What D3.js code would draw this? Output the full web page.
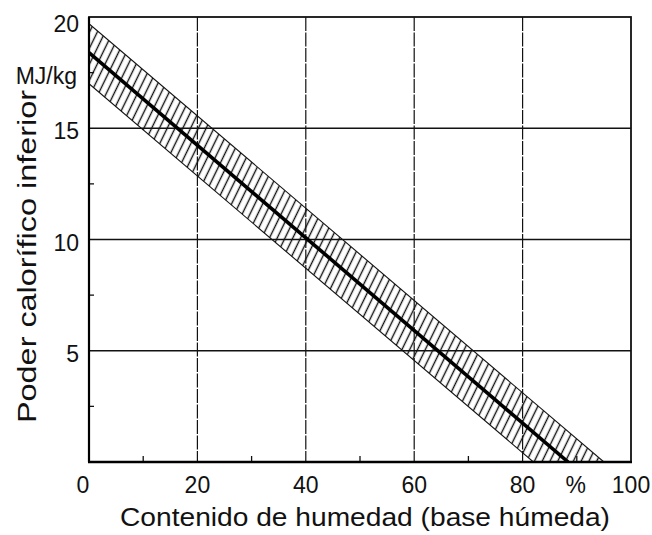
<!DOCTYPE html>
<html>
<head>
<meta charset="utf-8">
<script src="https://cdn.jsdelivr.net/npm/d3@7"></script>
<style>
  body { margin: 0; background: #fff; }
  text { font-family: "Liberation Sans", Arial, sans-serif; fill: #111; }
</style>
</head>
<body>
<div id="chart"></div>
<script>
// data
const xTicks = [0, 20, 40, 60, 80, 100];
const yTicks = [5, 10, 15, 20];
const xMinor = [10, 30, 50, 70, 90];
const yMinor = [2.5, 7.5, 12.5, 17.5];
const centerLine = [[0, 18.4], [88.4, 0]];
const bandUpper = [[0, 19.7], [95, 0]];
const bandLower = [[0, 17.0], [82, 0]];

const width = 652, height = 535;
const margin = { top: 17, right: 21, bottom: 73, left: 89 };

const svg = d3.select("#chart").append("svg")
  .attr("width", width)
  .attr("height", height);

const x = d3.scaleLinear().domain([0, 100]).range([margin.left, width - margin.right]);
const y = d3.scaleLinear().domain([0, 20]).range([height - margin.bottom, margin.top]);

const defs = svg.append("defs");
defs.append("clipPath").attr("id", "plotClip")
  .append("rect")
  .attr("x", x(0)).attr("y", y(20))
  .attr("width", x(100) - x(0)).attr("height", y(0) - y(20));

const pat = defs.append("pattern")
  .attr("id", "hatch")
  .attr("patternUnits", "userSpaceOnUse")
  .attr("width", 7).attr("height", 7)
  .attr("patternTransform", "rotate(26)");
pat.append("line")
  .attr("x1", 3.5).attr("y1", 0).attr("x2", 3.5).attr("y2", 7)
  .attr("stroke", "#111").attr("stroke-width", 1.4);

// grid lines
svg.append("g").selectAll("line").data(xTicks.filter(d => d > 0 && d < 100)).join("line")
  .attr("x1", d => x(d)).attr("x2", d => x(d))
  .attr("y1", y(20)).attr("y2", y(0))
  .attr("stroke", "#111").attr("stroke-width", 1.2)
  .attr("stroke-dasharray", "14,1.5");
svg.append("g").selectAll("line").data(yTicks.filter(d => d < 20)).join("line")
  .attr("x1", x(0)).attr("x2", x(100))
  .attr("y1", d => y(d)).attr("y2", d => y(d))
  .attr("stroke", "#111").attr("stroke-width", 1.3);

// hatched band
const plot = svg.append("g").attr("clip-path", "url(#plotClip)");
const bandPts = bandUpper.concat(bandLower.slice().reverse());
const area = d3.line().x(d => x(d[0])).y(d => y(d[1]));
plot.append("path")
  .attr("d", area(bandPts) + "Z")
  .attr("fill", "url(#hatch)")
  .attr("stroke", "none");
[bandUpper, bandLower].forEach(edge => {
  plot.append("path")
    .attr("d", area(edge))
    .attr("fill", "none")
    .attr("stroke", "#111")
    .attr("stroke-width", 1.1);
});
plot.append("path")
  .attr("d", area(centerLine))
  .attr("fill", "none")
  .attr("stroke", "#000")
  .attr("stroke-width", 3.6);

// minor ticks (inward)
svg.append("g").selectAll("line").data(xMinor).join("line")
  .attr("x1", d => x(d)).attr("x2", d => x(d))
  .attr("y1", y(0)).attr("y2", y(0) - 6)
  .attr("stroke", "#111").attr("stroke-width", 1.3);
svg.append("g").selectAll("line").data(yMinor).join("line")
  .attr("x1", x(0)).attr("x2", x(0) + 5)
  .attr("y1", d => y(d)).attr("y2", d => y(d))
  .attr("stroke", "#111").attr("stroke-width", 1.3);

// frame
svg.append("rect")
  .attr("x", x(0)).attr("y", y(20))
  .attr("width", x(100) - x(0)).attr("height", y(0) - y(20))
  .attr("fill", "none").attr("stroke", "#111").attr("stroke-width", 1.8);
svg.append("line")
  .attr("x1", x(0) - 1).attr("x2", x(100) + 1)
  .attr("y1", y(0)).attr("y2", y(0))
  .attr("stroke", "#000").attr("stroke-width", 2.6);
svg.append("line")
  .attr("x1", x(0)).attr("x2", x(0))
  .attr("y1", y(20)).attr("y2", y(0))
  .attr("stroke", "#000").attr("stroke-width", 2.2);

// tick labels
svg.append("g").selectAll("text").data(xTicks).join("text")
  .attr("x", d => x(d) - (d === 0 ? 6 : 0))
  .attr("y", y(0) + 31)
  .attr("text-anchor", "middle")
  .attr("font-size", 23)
  .text(d => d);
svg.append("text")
  .attr("x", x(90) - 1).attr("y", y(0) + 31)
  .attr("text-anchor", "middle")
  .attr("font-size", 23)
  .text("%");
svg.append("g").selectAll("text").data(yTicks).join("text")
  .attr("x", 79)
  .attr("y", d => Math.max(y(d) + 3, 24))
  .attr("dy", "0.35em")
  .attr("text-anchor", "end")
  .attr("font-size", 23)
  .text(d => d);
svg.append("text")
  .attr("x", 77).attr("y", 84)
  .attr("text-anchor", "end")
  .attr("font-size", 23)
  .text("MJ/kg");

// axis titles
svg.append("text")
  .attr("x", 120).attr("y", 526)
  .attr("font-size", 25)
  .attr("textLength", 490)
  .attr("lengthAdjust", "spacingAndGlyphs")
  .text("Contenido de humedad (base húmeda)");
svg.append("text")
  .attr("transform", "translate(36,423) rotate(-90)")
  .attr("x", 0).attr("y", 0)
  .attr("font-size", 26)
  .attr("textLength", 333)
  .attr("lengthAdjust", "spacingAndGlyphs")
  .text("Poder calorífico inferior");
</script>
</body>
</html>
